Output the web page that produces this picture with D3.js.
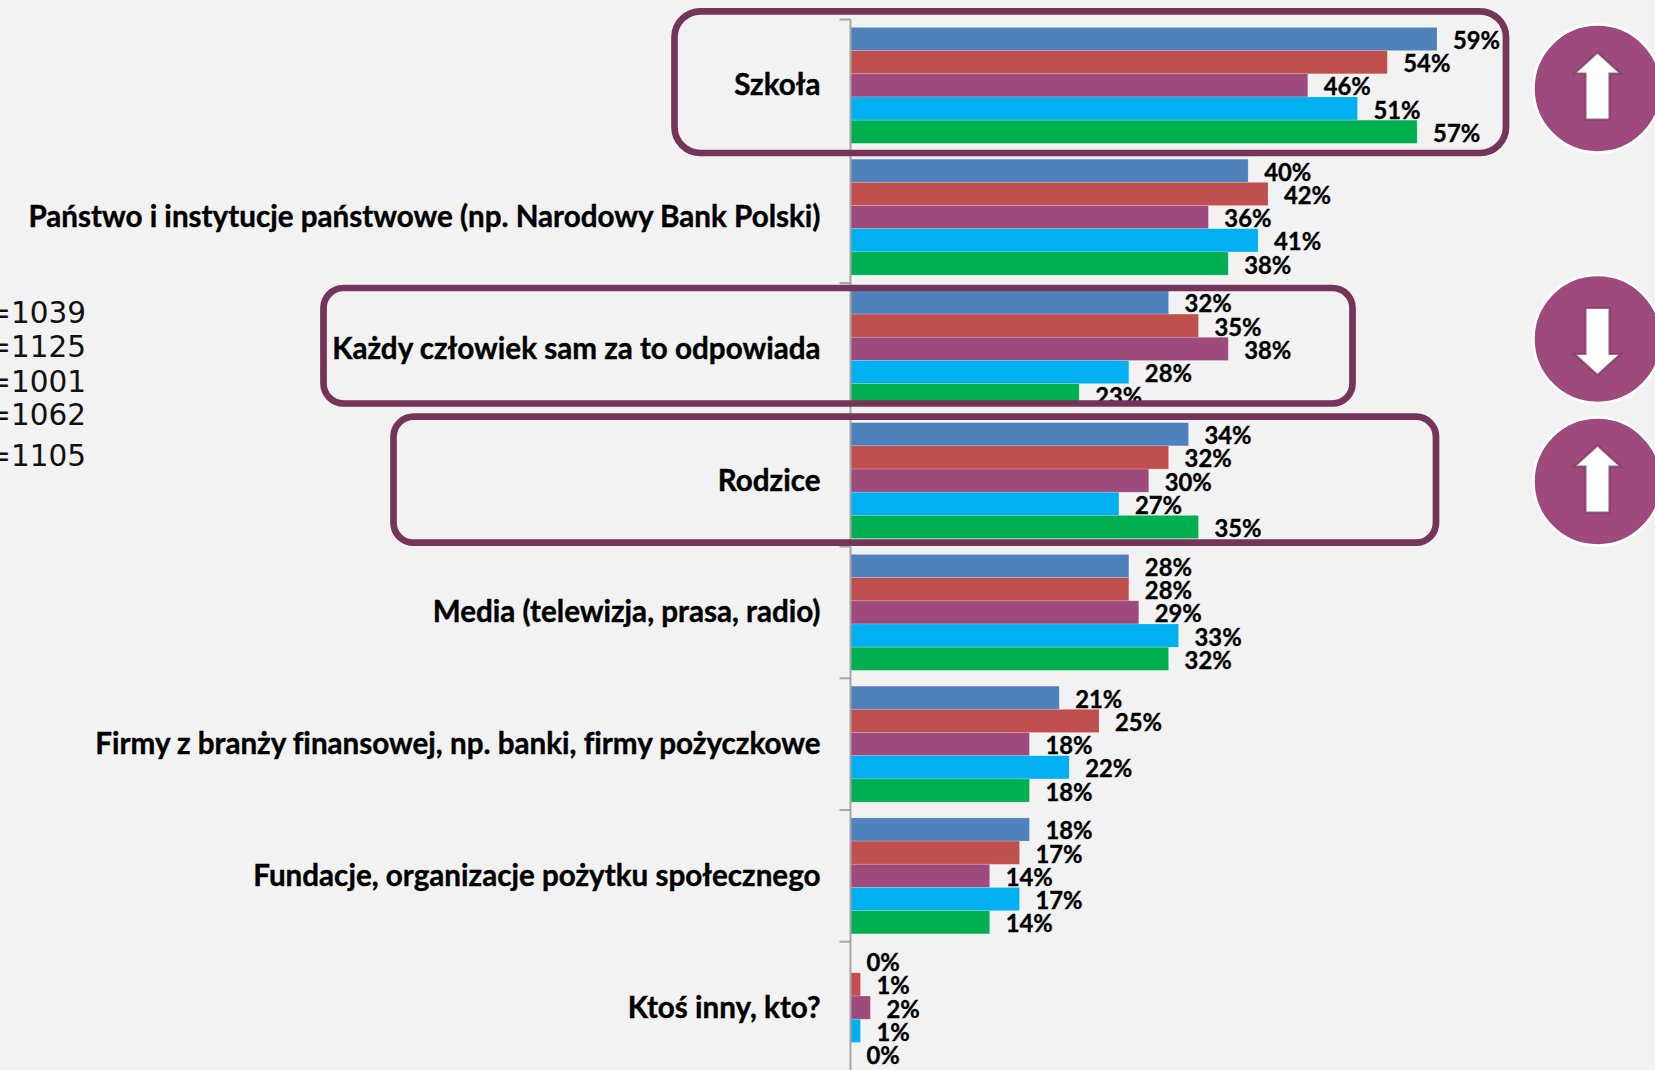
<!DOCTYPE html>
<html><head><meta charset="utf-8">
<script src="https://cdn.jsdelivr.net/npm/d3@7"></script>
<style>html,body{margin:0;padding:0;background:#f2f2f2;overflow:hidden}svg{display:block}text{font-variant-ligatures:none}</style>
</head><body><svg id="c" width="1655" height="1070"></svg>
<script>
const categories=["Szkoła","Państwo i instytucje państwowe (np. Narodowy Bank Polski)","Każdy człowiek sam za to odpowiada","Rodzice","Media (telewizja, prasa, radio)","Firmy z branży finansowej, np. banki, firmy pożyczkowe","Fundacje, organizacje pożytku społecznego","Ktoś inny, kto?"];
const series1=[59,40,32,34,28,21,18,0];
const series2=[54,42,35,32,28,25,17,1];
const series3=[46,36,38,30,29,18,14,2];
const series4=[51,41,28,27,33,22,17,1];
const series5=[57,38,23,35,32,18,14,0];
const seriesList=[series1,series2,series3,series4,series5];
const colors=["#4f81bd","#c0504d","#9e4a7d","#00b0f0","#00b050"];
const sampleLabels=["n=1039","n=1125","n=1001","n=1062","n=1105"];
const sampleY=[323,357,392,425,466];
const frames=[{x0:674.5,x1:1506,y0:11.3,y1:153,r:26},{x0:323.5,x1:1352.5,y0:288,y1:403.5,r:20},{x0:393.5,x1:1436,y0:416.7,y1:542.7,r:20}];
const arrows=[{c:"up",cx:1597.5,cy:88.5},{c:"down",cx:1597.5,cy:339},{c:"up",cx:1597.5,cy:481.5}];

const svg=d3.select("#c");
const x=d3.scaleLinear().domain([0,59]).range([850.5,1437]);
const y=d3.scaleBand().domain(categories).range([19.5,1073.5]).paddingInner(0.12).paddingOuter(0.06);
const inner=d3.scaleBand().domain(d3.range(5)).range([0,y.bandwidth()]);
const font="Lato, Carlito, sans-serif";

const g=svg.append("g");
seriesList.forEach((vals,s)=>{
  g.selectAll(null).data(vals).join("rect")
    .attr("x",x(0)).attr("y",(d,i)=>y(categories[i])+inner(s))
    .attr("width",d=>x(d)-x(0)).attr("height",inner.bandwidth())
    .attr("fill",colors[s])
    .attr("stroke",d=>d>0?"#fff":"none").attr("stroke-opacity",.22).attr("stroke-width",.8);
});
seriesList.forEach((vals,s)=>{
  g.selectAll(null).data(vals).join("text")
    .attr("x",d=>x(d)+16).attr("y",(d,i)=>y(categories[i])+inner(s)+inner.bandwidth()/2+10)
    .attr("font-family",font).attr("font-weight",700).attr("font-size",23.8).attr("fill","#000")
    .attr("stroke","#000").attr("stroke-width",.35)
    .text(d=>d+"%");
});
const step=y.step();
const axis=d3.axisLeft(y).tickSize(0).tickPadding(30).tickFormat(d=>d);
const ax=svg.append("g").attr("transform",`translate(${x(0)},0.5)`).call(axis);
ax.select(".domain").remove();
ax.selectAll("text").attr("font-family",font).attr("font-weight",700).attr("font-size",29.6).attr("fill","#000")
  .attr("stroke","#000").attr("stroke-width",.4);

svg.append("rect").attr("x",300).attr("y",403).attr("width",1100).attr("height",14).attr("fill","#f3f2f3");
svg.append("line").attr("x1",x(0)).attr("x2",x(0)).attr("y1",19.5).attr("y2",1070).attr("stroke","#a6a6a6").attr("stroke-width",2);
svg.selectAll(null).data(d3.range(9)).join("line")
  .attr("x1",x(0)-11).attr("x2",x(0)).attr("y1",i=>19.5+i*step).attr("y2",i=>19.5+i*step)
  .attr("stroke","#a6a6a6").attr("stroke-width",2);
svg.selectAll(null).data(frames).join("rect")
  .attr("x",d=>d.x0).attr("y",d=>d.y0).attr("width",d=>d.x1-d.x0).attr("height",d=>d.y1-d.y0).attr("rx",d=>d.r)
  .attr("fill","none").attr("stroke","#75345a").attr("stroke-width",6.7);

svg.selectAll(null).data(sampleLabels).join("text")
  .attr("x",86).attr("y",(d,i)=>sampleY[i]).attr("text-anchor","end")
  .attr("font-family","'DejaVu Sans',sans-serif").attr("font-size",29.5).attr("fill","#111").text(d=>d);

const arrowG=svg.selectAll(null).data(arrows).join("g").attr("transform",d=>`translate(${d.cx},${d.cy})`);
arrowG.append("circle").attr("r",64).attr("fill","#9e4a7d").attr("stroke","#fff").attr("stroke-width",2.5);
arrowG.append("path").attr("d",d=>{
  const sgn=d.c==="up"?1:-1;
  const p=[[0,-36],[23,-15],[12,-15],[12,31],[-12,31],[-12,-15],[-23,-15]];
  return "M"+p.map(q=>[q[0],q[1]*sgn].join(",")).join("L")+"Z";
}).attr("fill","#fff").attr("stroke","#75345a").attr("stroke-width",2.2).attr("stroke-opacity",.7);
</script></body></html>
